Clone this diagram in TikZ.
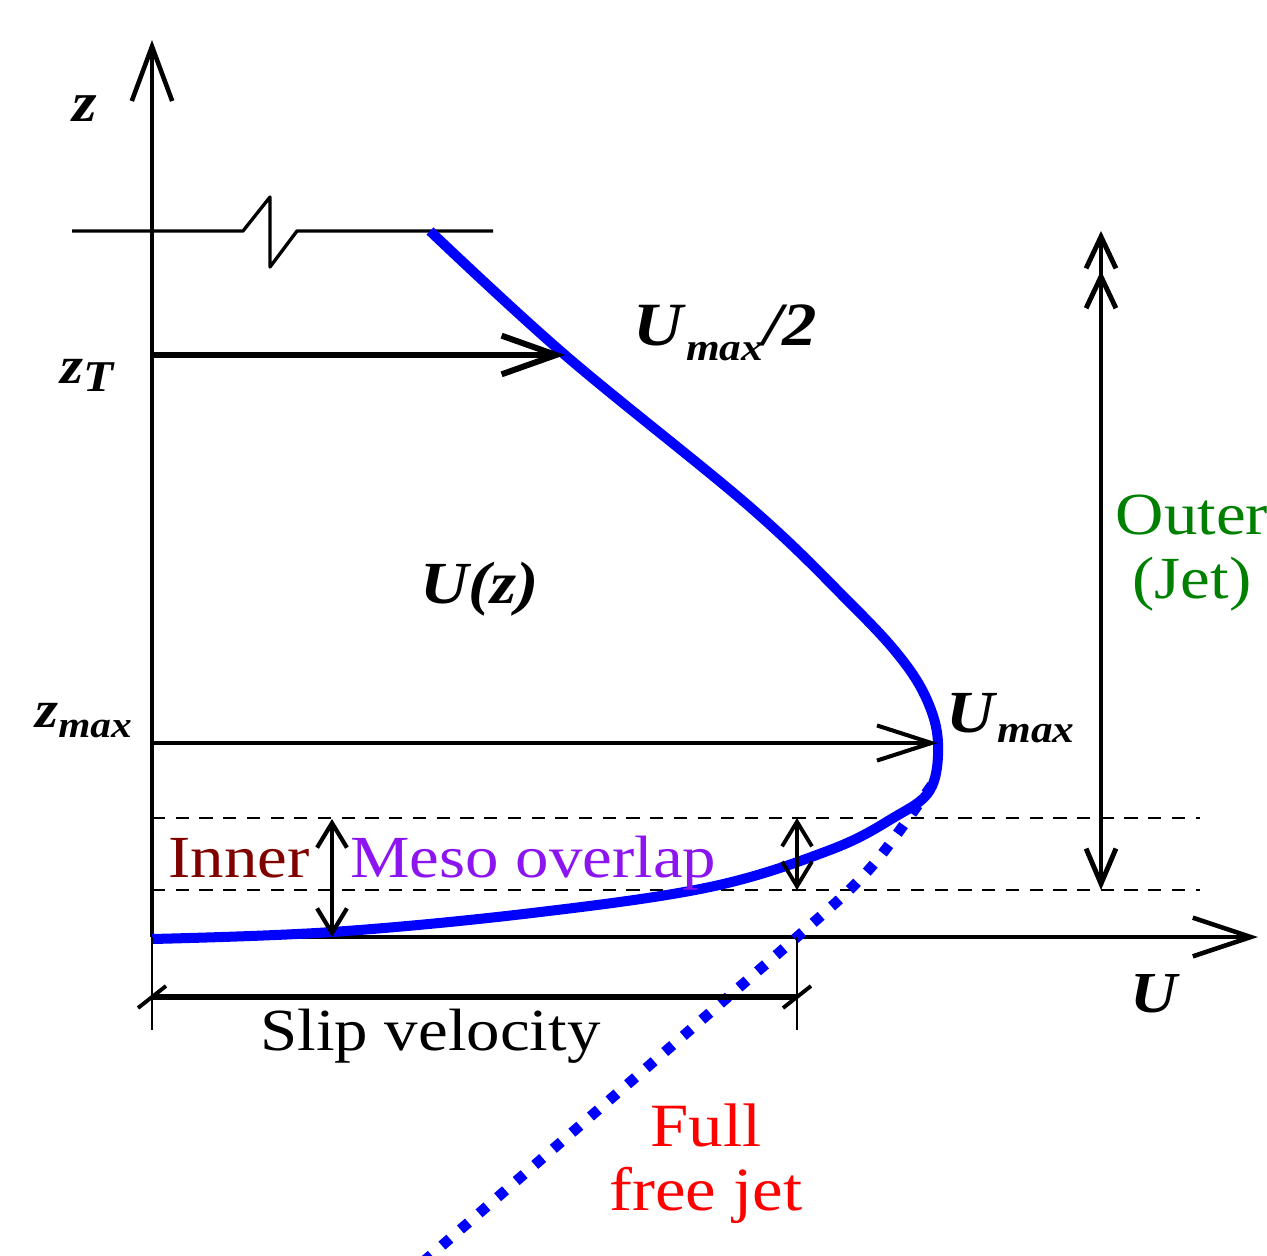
\documentclass[tikz,border=0pt]{standalone}
\usepackage{fontspec}
\setmainfont[FakeStretch=1.12]{Liberation Serif}
\usetikzlibrary{arrows.meta}
\definecolor{innercol}{RGB}{128,0,0}
\definecolor{mesocol}{RGB}{140,20,240}
\definecolor{outercol}{RGB}{0,128,0}
\newcommand{\bi}[1]{\textbf{\textit{#1}}}
\newcommand{\lsub}[3]{\raisebox{-#1}{\fontsize{#2}{#2}\selectfont\bi{#3}}}
\tikzset{
  axis/.style={line width=2.6pt, -{Straight Barb[length=31pt,width=23pt]}},
  level/.style={line width=0.9pt, dash pattern=on 7.5pt off 6pt},
  profile/.style={blue, line width=5.7pt},
  freejet/.style={blue, line width=6pt, dash pattern=on 6pt off 8pt},
  band/.style={line width=2.4pt, {Straight Barb[length=14pt,width=17pt]}-{Straight Barb[length=14pt,width=17pt]}},
}
\begin{document}
\begin{tikzpicture}[x=0.02cm, y=-0.02cm, line join=round, font=\fontsize{34}{36}\selectfont]
\useasboundingbox (0,0) rectangle (1267,1256);
\path
  (152,937) coordinate (O)
  (152,40) coordinate (Ztop)
  (1258,937) coordinate (Uend)
  (152,355) coordinate (zT)
  (565,355) coordinate (half)
  (152,743) coordinate (zmax)
  (938,743) coordinate (peak)
  (72,231) coordinate (cutL)
  (493,231) coordinate (cutR)
  (332,819) coordinate (innT) (332,937) coordinate (innB)
  (797,818) coordinate (mesT) (797,890) coordinate (mesB)
  (1101,231) coordinate (outT) (1101,890) coordinate (outB)
  (152,997) coordinate (slipL) (797,997) coordinate (slipR)
  (797,937) coordinate (cross)
  ;
% axes
\draw[axis] (O) -- (Ztop);
\draw[axis, -{Straight Barb[length=33pt,width=22pt]}] (O) -- (Uend);
% cut line at the top of the profile
\draw[line width=1.9pt] (cutL) -- (243,231) -- (270,197) -- (270,267) -- (297,231) -- (cutR);
% layer limits
\foreach \y in {818,890}{
  \draw[level] (152,\y) -- (1200,\y);
}
% velocity profile
\draw[profile] plot[smooth, tension=0.6] coordinates {(430,231) (565,355) (750,507) (850,603) (900,657) (927,700) (938,743) (930,790) (893,818) (830,850) (710,887) (532,913) (332,932) (152,939)};
\draw[freejet] (932,785) .. controls (870,873) .. (cross) -- (400,1282);
% heights
\draw[line width=3.4pt, -{Straight Barb[length=31pt,width=22pt]}] (zT) -- (half);
\draw[line width=2.3pt, -{Straight Barb[length=31pt,width=20pt]}] (zmax) -- (peak);
% layers
\draw[band] (innB) -- (innT);
\draw[band, line width=2.2pt] (mesB) -- (mesT);
\draw[line width=2.8pt, {Straight Barb[length=20pt,width=17pt]}-{Straight Barb[length=18pt,width=17pt,sep=0pt]Straight Barb[length=18pt,width=17pt]}] (outB) -- (outT);
% slip velocity
\draw[line width=1.1pt] (O) -- ++(0,93) (cross) -- ++(0,93);
\draw[line width=3.4pt] (slipL) -- (slipR);
\foreach \p in {slipL, slipR}{
  \draw[line width=2.2pt] (\p) ++(-14,11) -- ++(28,-22);
}
% labels
\node[anchor=base west, inner sep=0pt] (zlab) at (72,122) {\fontsize{32}{34}\selectfont\bi{z}};
\node[anchor=base west, inner sep=0pt] (zTlab) at (60,384) {\fontsize{30}{32}\selectfont\bi{z}\lsub{4.5pt}{25}{T}};
\node[anchor=base west, inner sep=0pt] (zmaxlab) at (35,727) {\fontsize{30}{32}\selectfont\bi{z}\lsub{6pt}{21}{max}};
\node[anchor=base west, inner sep=0pt] (halflab) at (633,346) {\fontsize{35}{38}\selectfont\bi{U}\lsub{8pt}{22}{max}\bi{/2}};
\node[anchor=base west, inner sep=0pt] (Uzlab) at (420,603) {\bi{U(z)}};
\node[anchor=base west, inner sep=0pt] (peaklab) at (946,732) {\bi{U}\lsub{6pt}{22}{max}};
\node[anchor=base west, inner sep=0pt] (Ulab) at (1130,1012) {\fontsize{33}{34}\selectfont\bi{U}};
\node[anchor=base west, inner sep=0pt, text=innercol] (innlab) at (168,877) {Inner};
\node[anchor=base west, inner sep=0pt, text=mesocol] (meslab) at (350,877) {Meso overlap};
\node[anchor=base west, inner sep=0pt] (sliplab) at (260,1050) {Slip velocity};
\node[anchor=base, inner sep=0pt, text=outercol, align=center] (outlab) at (1192,598) {Outer\\(Jet)};
\node[anchor=base, inner sep=0pt, text=red, align=center, font=\fontsize{35}{36}\selectfont] (jetlab) at (706,1210) {Full\\free jet};
\end{tikzpicture}
\end{document}
